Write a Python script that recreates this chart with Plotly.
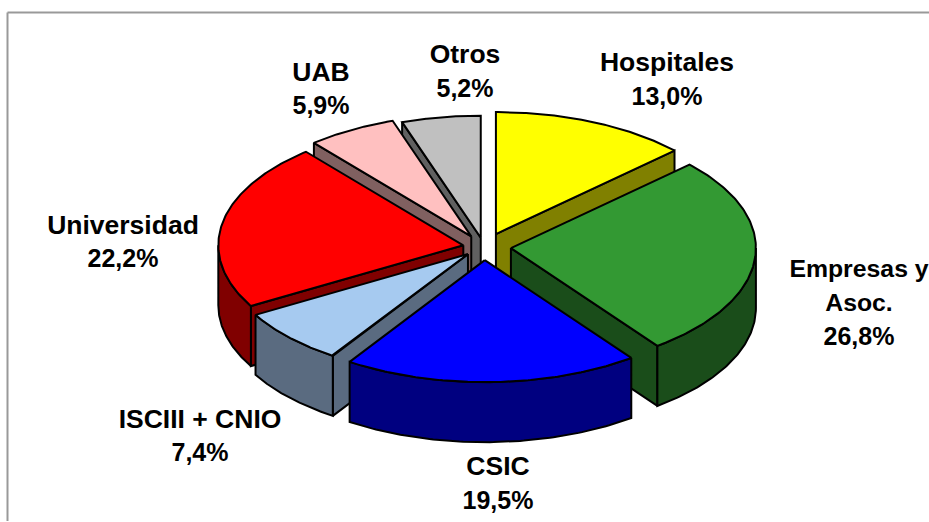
import numpy as np
import plotly.graph_objects as go

# Data
labels = ["Hospitales", "Empresas y<br>Asoc.", "CSIC", "ISCIII + CNIO", "Universidad", "UAB", "Otros"]
values = [13.0, 26.8, 19.5, 7.4, 22.2, 5.9, 5.2]

# Style
top_colors = ["#FFFF00", "#339933", "#0000FF", "#A6CAF0", "#FF0000", "#FFC0C0", "#C0C0C0"]
side_colors = ["#808000", "#1A4D1A", "#000080", "#5A6B80", "#800000", "#806060", "#606060"]
paint_order = [6, 5, 0, 4, 1, 3, 2]

# Projection of the tilted pie, in pixels
CX, CY = 484, 247
RX, RY = 245, 122
DEPTH = 60
explode = [30, 27, 28, 22, 21, 26, 20]
EY_RATIO = 0.47
label_pos = [(667, 64.5), (859, 271), (498, 468.5), (200, 421), (123, 227), (321, 74), (465, 56.5)]
LINE_GAP = 34
name_sizes = [26.5, 24.8, 26.5, 26.5, 26.5, 26.5, 26.5]
VALUE_SIZE = 25

fig = go.Figure()
edges = np.cumsum([0] + values) / sum(values) * 360.0


def add_poly(xs, ys, fill):
    fig.add_trace(go.Scatter(x=xs, y=ys, mode="lines", fill="toself", fillcolor=fill,
                             line=dict(color="black", width=2), hoverinfo="skip", showlegend=False))


for i in paint_order:
    a0, a1 = edges[i], edges[i + 1]
    mid = np.radians((a0 + a1) / 2)
    ax = CX + explode[i] * np.sin(mid)
    ay = CY - explode[i] * EY_RATIO * np.cos(mid)

    def pt(deg):
        r = np.radians(deg)
        return ax + RX * np.sin(r), ay - RY * np.cos(r)

    # radial cut walls: only those that face the viewer
    visible_edges = []
    if np.sin(np.radians(a0)) < -1e-9:
        visible_edges.append(a0)
    if np.sin(np.radians(a1)) > 1e-9:
        visible_edges.append(a1)
    for e in visible_edges:
        ex, ey = pt(e)
        add_poly([ax, ex, ex, ax, ax], [ay, ey, ey + DEPTH, ay + DEPTH, ay], side_colors[i])
    # visible outer rim
    lo, hi = max(a0, 90), min(a1, 270)
    if hi > lo:
        t = np.linspace(lo, hi, 80)
        rx, ry = pt(t)
        add_poly(np.r_[rx, rx[::-1], rx[0]], np.r_[ry, ry[::-1] + DEPTH, ry[0]], side_colors[i])
    # top face
    t = np.linspace(a0, a1, 120)
    tx, ty = pt(t)
    add_poly(np.r_[ax, tx, ax], np.r_[ay, ty, ay], top_colors[i])

# labels, one text mark per line so the line spacing can match
tx, ty, tt, ts = [], [], [], []
for lab, v, (x, y), size in zip(labels, values, label_pos, name_sizes):
    names = lab.split("<br>")
    lines = names + [f"{v:.1f}".replace(".", ",") + "%"]
    for k, s in enumerate(lines):
        tx.append(x)
        ty.append(y + k * LINE_GAP)
        tt.append(s)
        ts.append(size if k < len(names) else VALUE_SIZE)
fig.add_trace(go.Scatter(x=tx, y=ty, text=tt, mode="text", textposition="middle center",
                         textfont=dict(family="Liberation Sans", size=ts, color="black", weight=700),
                         cliponaxis=False, hoverinfo="skip", showlegend=False))

frame = dict(color="#999999", width=2)
fig.update_layout(
    width=929, height=522, margin=dict(l=0, r=0, t=0, b=0),
    paper_bgcolor="white", plot_bgcolor="white",
    xaxis=dict(range=[0, 929], visible=False, fixedrange=True),
    yaxis=dict(range=[522, 0], visible=False, fixedrange=True),
    shapes=[
        dict(type="line", x0=7.5, x1=929, y0=12.5, y1=12.5, line=frame, layer="below"),
        dict(type="line", x0=7.5, x1=7.5, y0=12.5, y1=521, line=frame, layer="below"),
    ],
)
fig.write_html("out.html", config={"displayModeBar": False},
               post_script="document.body.style.margin='0';document.documentElement.style.overflow='hidden';")
